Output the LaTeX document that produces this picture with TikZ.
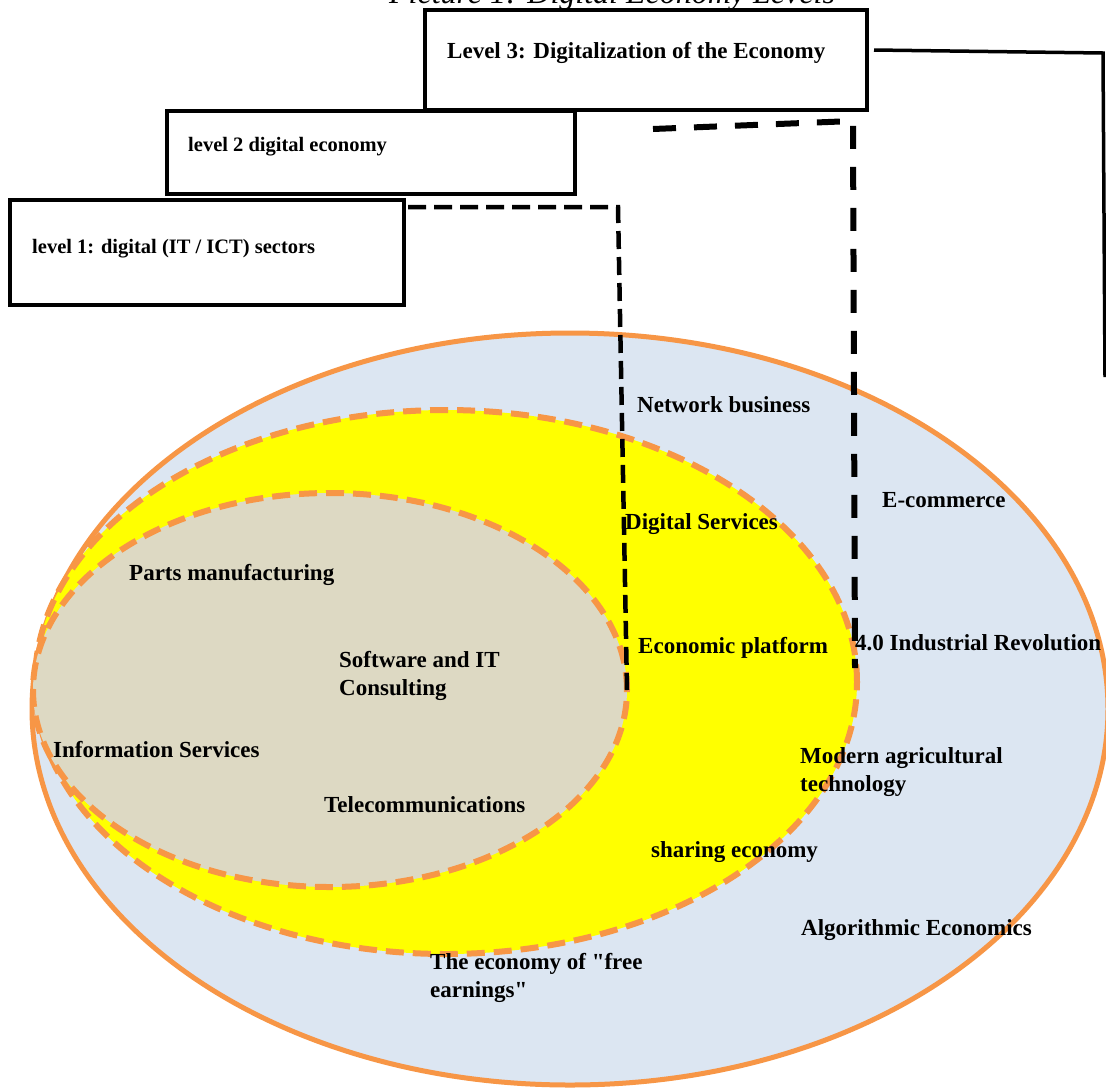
\documentclass[tikz,border=0pt]{standalone}
\usepackage{fontspec}
\setmainfont{Liberation Serif}[Ligatures=TeXOff]
\usetikzlibrary{shapes.geometric}
\definecolor{orng}{HTML}{F79646}
\definecolor{ltblue}{HTML}{DCE6F2}
\definecolor{beige}{HTML}{DDD9C3}
\definecolor{yel}{HTML}{FFFF00}
\begin{document}
\begin{tikzpicture}[x=1pt,y=-1pt,
  lbl/.style={font=\fontsize{23}{28}\selectfont\bfseries, anchor=base west, inner sep=0pt, align=left},
  boxlbl/.style={font=\fontsize{20.5}{24}\selectfont\bfseries, anchor=base west, inner sep=0pt},
  levelbox/.style={draw=black, line width=4.5pt, anchor=north west, inner sep=0pt, outer sep=0pt, fill=white},
  ring/.style={ellipse, inner sep=0pt, outer sep=0pt},
  orangedash/.style={draw=orng, line width=6pt, dash pattern=on 18pt off 9pt},
  connA/.style={draw=black, line width=4.5pt, dash pattern=on 18pt off 8pt},
  connB/.style={draw=black, line width=6pt, dash pattern=on 23pt off 18pt},
  connC/.style={draw=black, line width=3.5pt},
]
\useasboundingbox (0,0) rectangle (1106,1088);
\fill[white] (0,0) rectangle (1106,1088);

% title (cut off at the top, as in the reference)
\node[font=\fontsize{32}{38}\selectfont\itshape, anchor=base, inner sep=0pt] (title) at (612,3) {Picture 1: Digital Economy Levels};

% ellipses
\node[ring, minimum width=1076pt, minimum height=752pt, fill=ltblue, draw=orng, line width=5pt] (outer) at (570,709) {};
\node[ring, minimum width=822pt, minimum height=544pt, fill=yel, orangedash] (yellow) at (446,682) {};
\node[ring, minimum width=594pt, minimum height=394pt, fill=beige, orangedash] (inner) at (330,690) {};

% level boxes
\node[levelbox, minimum width=442pt, minimum height=100pt] (l3) at (425,10) {};
\node[levelbox, minimum width=408pt, minimum height=83pt] (l2) at (167,111) {};
\node[levelbox, minimum width=394pt, minimum height=105pt] (l1) at (10,200) {};
\node[lbl] (t3) at (447,58) {Level 3: Digitalization of the Economy};
\node[boxlbl] (t2) at (188,151) {level 2 digital economy};
\node[boxlbl] (t1) at (32,253) {level 1: digital (IT / ICT) sectors};

% connectors
\coordinate (a1) at (408,207);
\coordinate (a2) at (618,207);
\draw[connA] (a1) -- (a2) -- (inner.east);

\coordinate (b1) at (653,129);
\coordinate (b2) at (853,121);
\coordinate (b3) at (855,668);
\draw[connB] (b1) -- (b2) -- (b3);

\coordinate (c1) at (874,50);
\coordinate (c2) at (1103,53);
\coordinate (c3) at (1105,377);
\draw[connC] (c1) -- (c2) -- (c3);

% labels
\node[lbl] (n1) at (637,412) {Network business};
\node[lbl] (n2) at (882,507) {E-commerce};
\node[lbl] (n3) at (625,529) {Digital Services};
\node[lbl] (n4) at (129,580) {Parts manufacturing};
\node[lbl] (n5) at (638,653) {Economic platform};
\node[lbl] (n6) at (855,650) {4.0 Industrial Revolution};
\node[lbl] (n7) at (339,695) {Software and IT\\Consulting};
\node[lbl] (n8) at (53,757) {Information Services};
\node[lbl] (n9) at (800,791) {Modern agricultural\\technology};
\node[lbl] (n10) at (324,812) {Telecommunications};
\node[lbl] (n11) at (651,857) {sharing economy};
\node[lbl] (n12) at (801,935) {Algorithmic Economics};
\node[lbl] (n13) at (430,997) {The economy of "free\\earnings"};
\end{tikzpicture}
\end{document}
